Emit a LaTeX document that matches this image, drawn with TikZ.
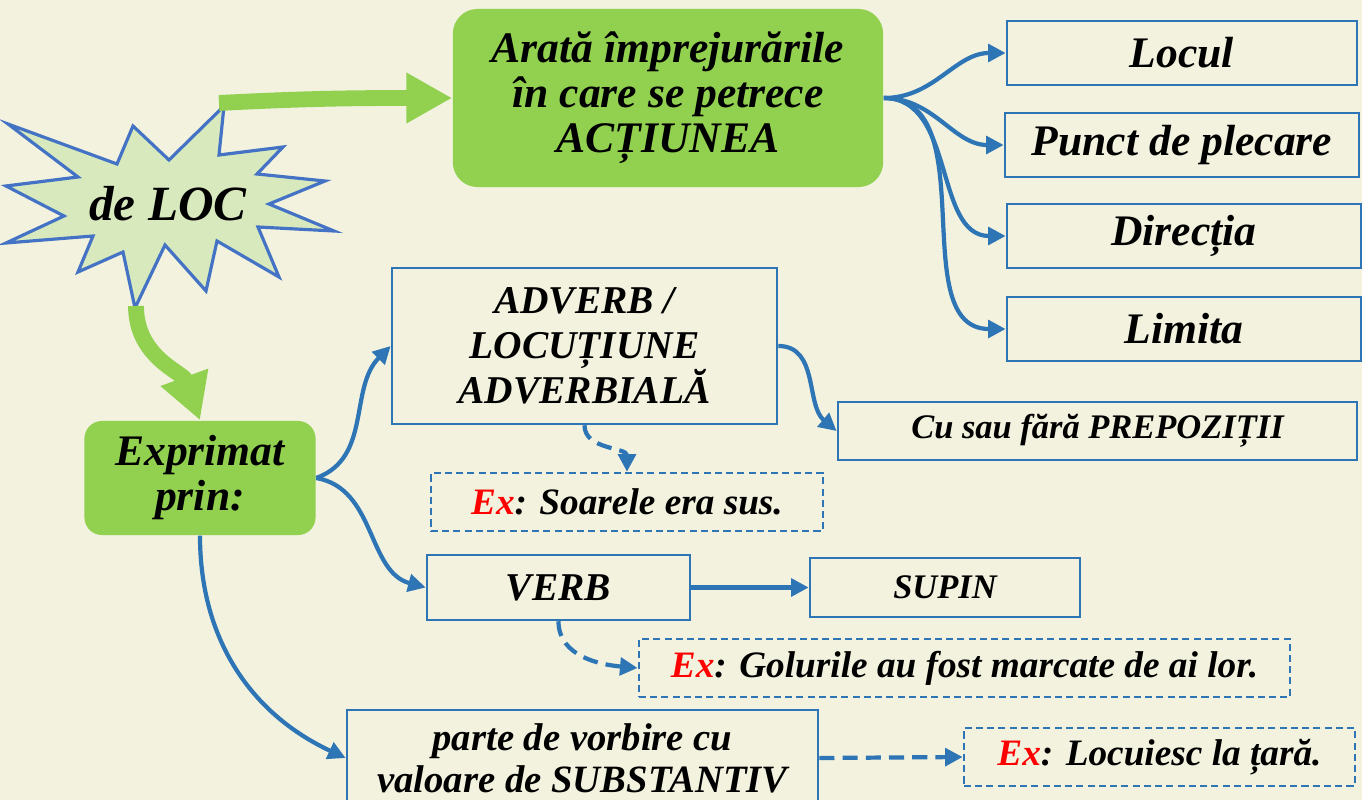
\documentclass[tikz,border=0pt]{standalone}
\usepackage{fontspec}
\setmainfont{Liberation Serif}
\usetikzlibrary{arrows.meta,positioning}
\definecolor{bgcream}{HTML}{F2F2DF}
\definecolor{leafgreen}{HTML}{92D050}
\definecolor{stargreen}{HTML}{D8E9BE}
\definecolor{starblue}{HTML}{4472C4}
\definecolor{linkblue}{HTML}{2E75B6}
\definecolor{exred}{HTML}{FF0000}
\newcommand\bigtxt{\fontsize{12.4}{12.8}\selectfont\bfseries\itshape}
\newcommand\captxt{\fontsize{11.2}{12.8}\selectfont\bfseries\itshape}
\newcommand\smalltxt{\fontsize{9.8}{11}\selectfont\bfseries\itshape}
\newcommand\extxt{\fontsize{10.6}{12}\selectfont\bfseries\itshape}
\newcommand\partetxt{\fontsize{11}{12}\selectfont\bfseries\itshape}
\newcommand\startxt{\fontsize{14}{16}\selectfont\bfseries\itshape}
\newcommand\exmark{\textcolor{exred}{Ex}}
\tikzset{
  greenbox/.style={fill=leafgreen, rounded corners=7pt, align=center,
    inner sep=2pt, font=\bigtxt},
  framebox/.style={draw=linkblue, line width=0.7pt, align=center,
    inner sep=2pt, font=\bigtxt},
  capbox/.style={framebox, font=\captxt},
  smallbox/.style={framebox, font=\smalltxt},
  exbox/.style={framebox, font=\extxt, dash pattern=on 2pt off 1.2pt},
  link/.style={-{Triangle[length=5pt,width=5pt]}, line width=1.2pt, linkblue},
  dashlink/.style={link, dash pattern=on 4.3pt off 2.3pt},
  bigarrow/.style={-{Triangle[length=13pt,width=13.5pt]}, line width=4.5pt,
    leafgreen},
}

\begin{document}
\begin{tikzpicture}[x=0.01cm, y=0.01cm]
\fill[bgcream] (0,0) rectangle (1362,-800);
\useasboundingbox (0,0) rectangle (1362,-800);

% the star
\filldraw[fill=stargreen, draw=starblue, line width=0.9pt]
  (8,-124) -- (117,-164) -- (133,-126) -- (169,-160) -- (224,-106)
  -- (219,-155) -- (283,-147) -- (257,-174) -- (325,-181) -- (269,-204)
  -- (334,-231) -- (258,-227) -- (279,-277) -- (217,-241) -- (206,-291)
  -- (165,-245) -- (135,-308) -- (123,-252) -- (78,-272) -- (93,-236)
  -- (6,-243) -- (64,-216) -- (6,-186) -- (78,-177) -- cycle;
\node[font=\startxt] (loc) at (168,-204) {de LOC};
\coordinate (locne) at (219,-103);
\coordinate (locs) at (136,-306);

% what it shows
\node[greenbox, minimum width=4.3cm, minimum height=1.78cm] (actiune) at (668,-98)
  {Arată împrejurările\\în care se petrece\\ACȚIUNEA};
\node[framebox, minimum width=3.5cm, minimum height=0.64cm] (locul) at (1182,-53) {Locul};
\node[framebox, minimum width=3.54cm, minimum height=0.64cm] (punct) at (1182,-145) {Punct de plecare};
\node[framebox, minimum width=3.54cm, minimum height=0.64cm] (directia) at (1184,-236) {Direcția};
\node[framebox, minimum width=3.54cm, minimum height=0.64cm] (limita) at (1184,-329) {Limita};

% how it is expressed
\node[greenbox, rounded corners=5pt, minimum width=2.31cm, minimum height=1.14cm] (exprimat) at (200,-478)
  {Exprimat\\prin:};
\node[capbox, minimum width=3.85cm, minimum height=1.56cm] (adverb) at (584.5,-346)
  {ADVERB /\\LOCUȚIUNE\\ADVERBIALĂ};
\node[smallbox, minimum width=5.19cm, minimum height=0.58cm] (prepozitii) at (1097.5,-431)
  {Cu sau fără PREPOZIȚII};
\node[exbox, minimum width=3.92cm, minimum height=0.58cm] (exadverb) at (627,-502)
  {\exmark: Soarele era sus.};
\node[capbox, minimum width=2.63cm, minimum height=0.65cm] (verb) at (558.5,-587.5) {VERB};
\node[smallbox, minimum width=2.7cm, minimum height=0.59cm] (supin) at (945,-587.5) {SUPIN};
\node[exbox, minimum width=6.51cm, minimum height=0.58cm] (exverb) at (964.5,-668)
  {\exmark: Golurile au fost marcate de ai lor.};
\node[framebox, font=\partetxt, minimum width=4.71cm, minimum height=0.96cm] (parte) at (582.5,-758)
  {parte de vorbire cu\\valoare de SUBSTANTIV};
\node[exbox, minimum width=3.91cm, minimum height=0.58cm] (exparte) at (1159.5,-757)
  {\exmark: Locuiesc la țară.};

% connectors
\draw[bigarrow] (locne) to[out=3,in=180] (actiune.west);
\draw[bigarrow] (locs) to[out=-90,in=110] (exprimat.north);

\foreach \opt in {locul,punct,directia,limita}
  \draw[link] (actiune.east) to[out=0,in=180] (\opt.west);

\draw[link] (exprimat.east) to[out=20,in=-135] (adverb.west);
\draw[link] (exprimat.east) to[out=-10,in=165] (verb.west);
\draw[link] (exprimat.south) to[out=-90,in=155] (parte.west);
\draw[link] (adverb.east) to[out=0,in=140] (prepozitii.west);
\draw[dashlink] (adverb.south) to[out=-90,in=90] (exadverb.north);
\draw[link] (verb.east) -- (supin.west);
\draw[dashlink] (verb.south) to[out=-90,in=175] (exverb.west);
\draw[dashlink] (parte.east) -- (exparte.west);

\end{tikzpicture}
\end{document}
